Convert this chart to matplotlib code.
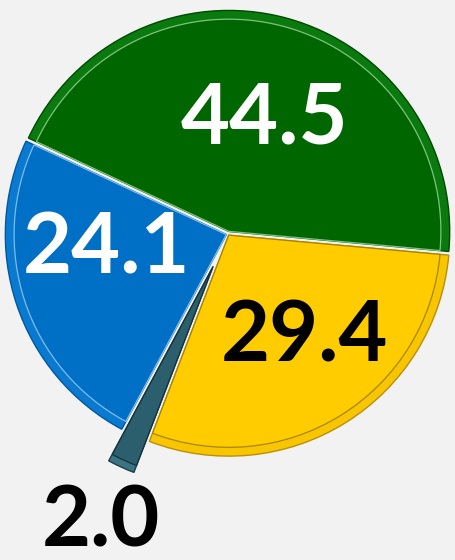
import matplotlib
matplotlib.use('Agg')
import matplotlib.pyplot as plt

# slice values, clockwise from the green one
values = [44.5, 29.4, 2.0, 24.1]
labels = ['44.5', '29.4', '2.0', '24.1']
colors = ['#006600', '#FFCC00', '#2C5F6E', '#0070C6']
rims = ['#0A7A0F', '#F7C600', '#3A7384', '#0A79D0']
outlines = ['#004A00', '#B8900A', '#1C3F4A', '#0058A0']
inner_lines = ['#7FC27F', '#A88400', '#15323B', '#7FBCEB']
text_colors = ['white', 'black', 'black', 'white']
explode = [0.012, 0.006, 0.16, 0.008]

# where the labels sit, in pie radius units from the centre
label_xy = [(0.167, 0.520), (0.344, -0.466), (-0.575, -1.305), (-0.552, -0.068)]

W, H = 455, 560
cx, cy, R = 228, 234, 221

fig = plt.figure(figsize=(W / 100, H / 100), dpi=100)
fig.patch.set_facecolor('#F2F2F2')
ax = fig.add_axes([0, 0, 1, 1])
ax.set_facecolor('#F2F2F2')

# outer rim
rim_wedges, _ = ax.pie(values, colors=rims, explode=explode, startangle=155,
                       counterclock=False, radius=1.0,
                       wedgeprops=dict(linewidth=1.0))
for w, oc in zip(rim_wedges, outlines):
    w.set_edgecolor(oc)

# inner face, a little smaller
r2 = 0.96
face_wedges, _ = ax.pie(values, colors=colors, explode=[e / r2 for e in explode],
                        startangle=155, counterclock=False, radius=r2,
                        wedgeprops=dict(linewidth=0.9))
for w, lc in zip(face_wedges, inner_lines):
    w.set_edgecolor(lc)

for lab, (x, y), c in zip(labels, label_xy, text_colors):
    ax.text(x, y, lab, ha='center', va='center', color=c, fontsize=61,
            fontweight='bold', family=['Lato', 'DejaVu Sans'])

ax.set_xlim(-cx / R, (W - cx) / R)
ax.set_ylim(-(H - cy) / R, cy / R)
ax.set_aspect('equal')
ax.axis('off')

plt.savefig('out.png', dpi=100, facecolor=fig.get_facecolor())
plt.close()
